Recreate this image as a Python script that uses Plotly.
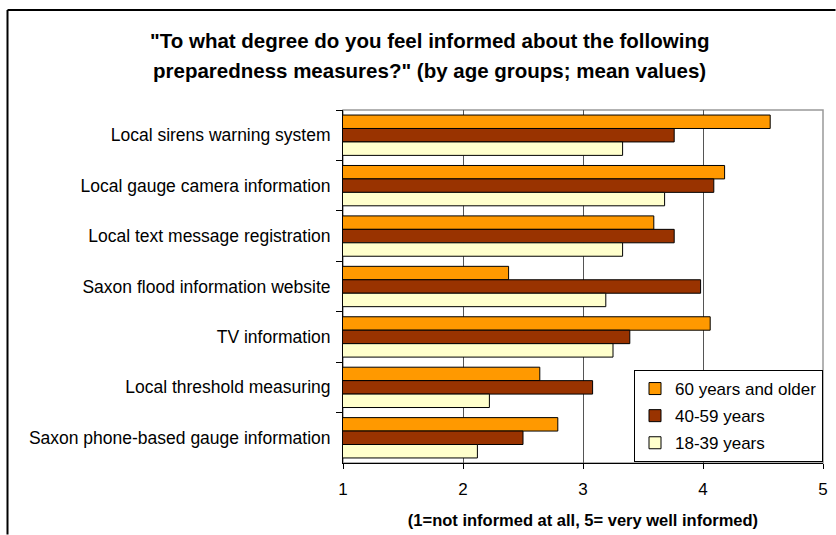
import plotly.graph_objects as go

# Preparedness measures (top to bottom) and mean rating per age group (1..5 scale)
measures = [
    "Local sirens warning system",
    "Local gauge camera information",
    "Local text message registration",
    "Saxon flood information website",
    "TV information",
    "Local threshold measuring",
    "Saxon phone-based gauge information",
]
age_60_plus = [4.56, 4.18, 3.59, 2.38, 4.06, 2.64, 2.79]
age_40_59 = [3.76, 4.09, 3.76, 3.98, 3.39, 3.08, 2.50]
age_18_39 = [3.33, 3.68, 3.33, 3.19, 3.25, 2.22, 2.12]

series_names = ["60 years and older", "40-59 years", "18-39 years"]
series_values = [age_60_plus, age_40_59, age_18_39]
series_colors = ["#FF9900", "#993300", "#FFFFCC"]

x_ticks = [1, 2, 3, 4, 5]

title_lines = [
    "\"To what degree do you feel informed about the following",
    "preparedness measures?\" (by age groups; mean values)",
]

FONT = "Liberation Sans, Arial, sans-serif"

fig = go.Figure()
for i, (name, vals, col) in enumerate(zip(series_names, series_values, series_colors)):
    fig.add_trace(go.Bar(
        y=measures,
        x=vals,
        name=name,
        orientation="h",
        marker=dict(color=col, line=dict(color="#000000", width=1)),
        legendgroup=f"g{i}",
    ))

W, H = 836, 535
L, R, T, B = 343, 13, 110, 72
plot_w = W - L - R
plot_h = H - T - B

def px_to_paper_x(px):
    return (px - L) / plot_w

def py_to_paper_y(py):
    return (H - B - py) / plot_h

# two-line bold heading
annotations = []
for line, cy in zip(title_lines, [40, 70]):
    annotations.append(dict(
        text=f"<b>{line}</b>",
        xref="paper", yref="paper",
        x=px_to_paper_x(429), y=py_to_paper_y(cy),
        xanchor="center", yanchor="middle",
        showarrow=False,
        font=dict(family=FONT, size=20.5, color="#000000"),
    ))

def border_line(x0, y0, x1, y1):
    return dict(type="line", xref="paper", yref="paper",
                x0=px_to_paper_x(x0), x1=px_to_paper_x(x1),
                y0=py_to_paper_y(y0), y1=py_to_paper_y(y1),
                line=dict(color="#000000", width=2), layer="above")

fig.update_layout(
    width=W,
    height=H,
    margin=dict(l=L, r=R, t=T, b=B, pad=0, autoexpand=False),
    paper_bgcolor="#FFFFFF",
    plot_bgcolor="#FFFFFF",
    font=dict(family=FONT, size=17.5, color="#000000"),
    barmode="group",
    bargap=0.2,
    bargroupgap=0,
    annotations=annotations,
    legend=dict(
        x=px_to_paper_x(823),
        xanchor="right",
        y=py_to_paper_y(462),
        yanchor="bottom",
        bgcolor="#FFFFFF",
        bordercolor="#000000",
        borderwidth=1,
        font=dict(family=FONT, size=17, color="#000000"),
        traceorder="grouped",
        tracegroupgap=2,
        itemclick=False,
        itemwidth=30,
    ),
    xaxis=dict(
        range=[1, 5],
        tickvals=x_ticks,
        ticktext=[str(v) for v in x_ticks],
        showgrid=True,
        gridcolor="#555555",
        gridwidth=1,
        showline=True,
        linecolor="#000000",
        linewidth=1,
        ticks="outside",
        ticklen=5,
        tickcolor="#000000",
        ticklabelstandoff=6,
        tickfont=dict(family=FONT, size=17),
        zeroline=False,
        automargin=False,
        title=dict(
            text="<b>(1=not informed at all, 5= very well informed)</b>",
            font=dict(family=FONT, size=16.5),
            standoff=16,
        ),
    ),
    yaxis=dict(
        autorange="reversed",
        showgrid=False,
        showline=True,
        linecolor="#000000",
        linewidth=1,
        ticks="outside",
        ticklen=6,
        tickcolor="#000000",
        tickson="boundaries",
        ticklabelstandoff=8,
        automargin=False,
        tickfont=dict(family=FONT, size=17.5),
    ),
    shapes=[
        # light frame around the plotting area
        dict(type="rect", xref="paper", yref="paper", x0=0, x1=1, y0=0, y1=1,
             line=dict(color="#999999", width=1.5), layer="below"),
        # outer chart border: top and left edges
        border_line(7.5, 10, W - 0.5, 10),
        border_line(7.5, 10, 7.5, H - 0.5),
    ],
)

fig.write_html("out.html")
